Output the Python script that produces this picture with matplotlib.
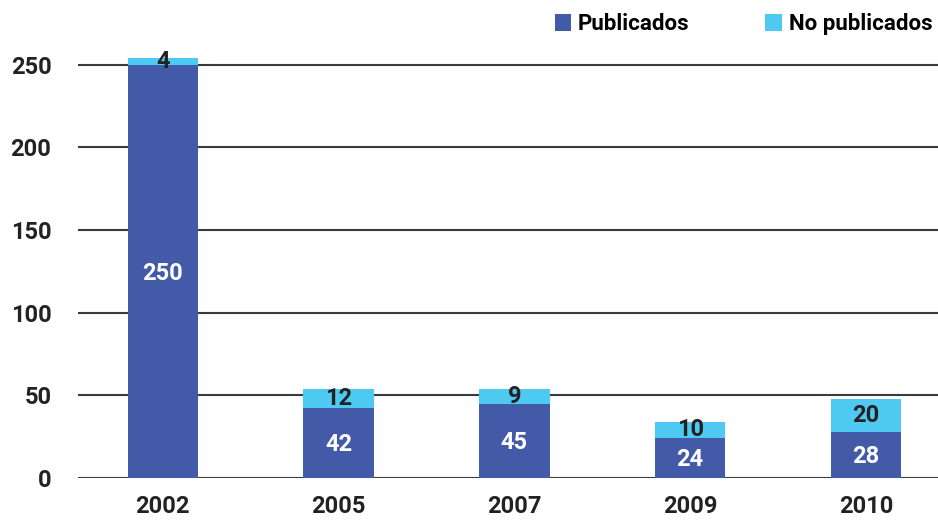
import matplotlib.pyplot as plt
import numpy as np

years = ["2002", "2005", "2007", "2009", "2010"]
publicados = [250, 42, 45, 24, 28]
no_publicados = [4, 12, 9, 10, 20]

dark = "#435AA8"
light = "#4DC9F2"

plt.rcParams["font.family"] = ["Roboto", "DejaVu Sans"]
plt.rcParams["font.weight"] = "bold"

fig = plt.figure(figsize=(9.38, 5.24), dpi=100)
ax = fig.add_axes([0.083, 0.088, 0.917, 0.845])

x = np.arange(len(years))
b1 = ax.bar(x, publicados, width=0.4, color=dark, label="Publicados", zorder=2)
b2 = ax.bar(x, no_publicados, width=0.4, bottom=publicados, color=light,
            label="No publicados", zorder=2)

for i in range(len(years)):
    ax.text(x[i], publicados[i] / 2 - 1, str(publicados[i]), ha="center", va="center",
            color="white", fontsize=17, fontweight="bold")
    ax.text(x[i], publicados[i] + no_publicados[i] / 2, str(no_publicados[i]),
            ha="center", va="center", color="#222222", fontsize=17, fontweight="bold")

ax.set_xlim(-0.483, 4.41)
ax.set_ylim(0, 268)
ax.set_yticks([0, 50, 100, 150, 200, 250])
ax.set_xticks(x)
ax.set_xticklabels(years)
ax.yaxis.grid(True, color="#3a3a3a", linewidth=1.5, zorder=0)
ax.set_axisbelow(True)
for s in ax.spines.values():
    s.set_visible(False)
ax.tick_params(length=0, labelsize=17, colors="#222222")
ax.tick_params(axis="y", pad=19)
ax.tick_params(axis="x", pad=12)

leg = fig.legend(handles=[b1, b2], loc="upper right", bbox_to_anchor=(1.008, 1.0),
                 ncol=2, frameon=False, fontsize=16, handlelength=0.75,
                 handleheight=0.75, handletextpad=0.3, columnspacing=3.4,
                 borderaxespad=0.2)

fig.savefig("out.png", dpi=100)
